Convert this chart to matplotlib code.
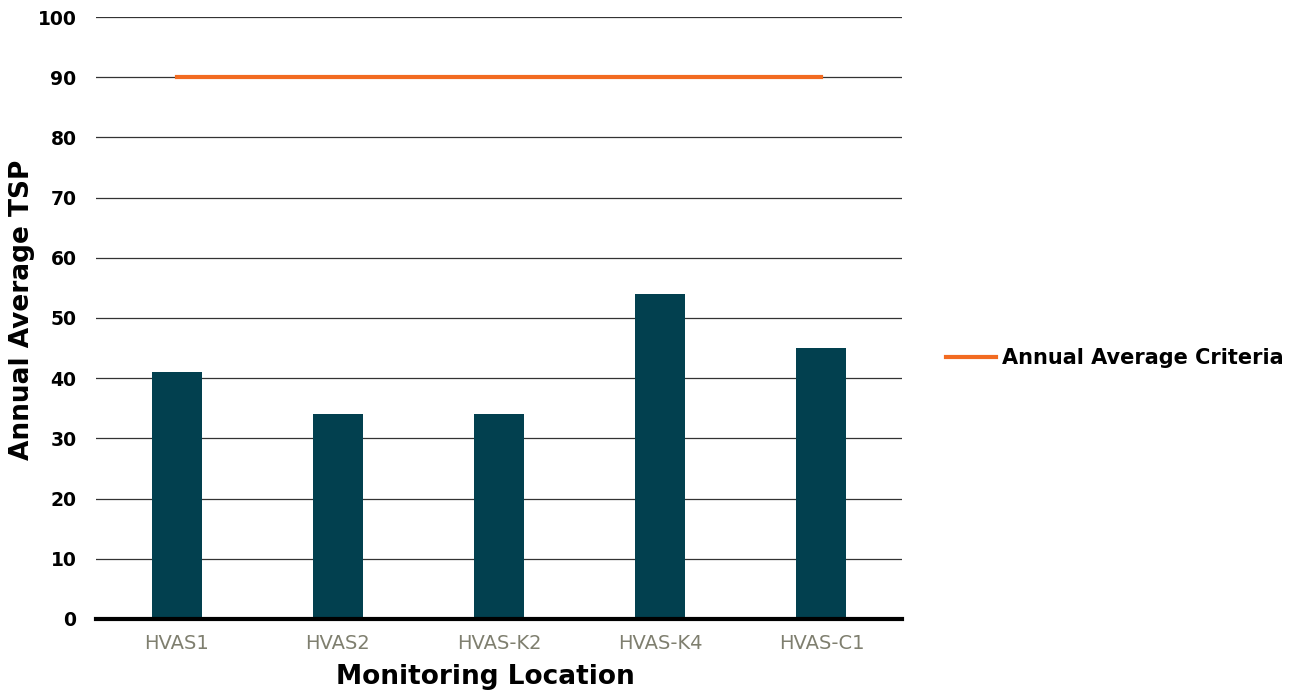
import numpy as np
import matplotlib.pyplot as plt

locations = ['HVAS1', 'HVAS2', 'HVAS-K2', 'HVAS-K4', 'HVAS-C1']
tsp = [41, 34, 34, 54, 45]
criteria = [90, 90, 90, 90, 90]

plt.rcParams['font.family'] = ['DejaVu Sans']

fig = plt.figure(figsize=(13.04, 6.95), dpi=100)
ax = fig.add_axes([0.0736, 0.1094, 0.6181, 0.8661])

x = np.arange(len(locations))
ax.bar(x, tsp, width=0.31, color='#02404f', zorder=3)
line, = ax.plot(x, criteria, color='#f26b21', lw=3, zorder=4,
                label='Annual Average Criteria')

ax.set_xlim(-0.5, len(locations) - 0.5)
ax.set_ylim(0, 100)
ax.set_yticks(range(0, 101, 10))
ax.yaxis.grid(True, color='#333333', lw=0.9, zorder=1)
ax.set_axisbelow(True)

for s in ['top', 'right', 'left']:
    ax.spines[s].set_visible(False)
ax.spines['bottom'].set_linewidth(3)
ax.spines['bottom'].set_color('black')
ax.spines['bottom'].set_zorder(5)

ax.set_xticks(x)
ax.set_xticklabels(locations, color='#7f7f6f', fontsize=14)
ax.tick_params(axis='x', length=0, pad=11)
ax.tick_params(axis='y', length=0, pad=14, labelsize=13.5)
for t in ax.get_yticklabels():
    t.set_fontweight('bold')

ax.set_xlabel('Monitoring Location', fontsize=19, fontweight='bold', va='center')
ax.set_ylabel('Annual Average TSP', fontsize=19, fontweight='bold', va='center')
ax.xaxis.set_label_coords(0.483, -0.096)
ax.yaxis.set_label_coords(-0.092, 0.513)

fig.legend(handles=[line], loc='center left', bbox_to_anchor=(0.711, 0.485),
           frameon=False, prop={'weight': 'bold', 'size': 15},
           handlelength=2.4, handletextpad=0.3)

fig.savefig('out.png', dpi=100)
